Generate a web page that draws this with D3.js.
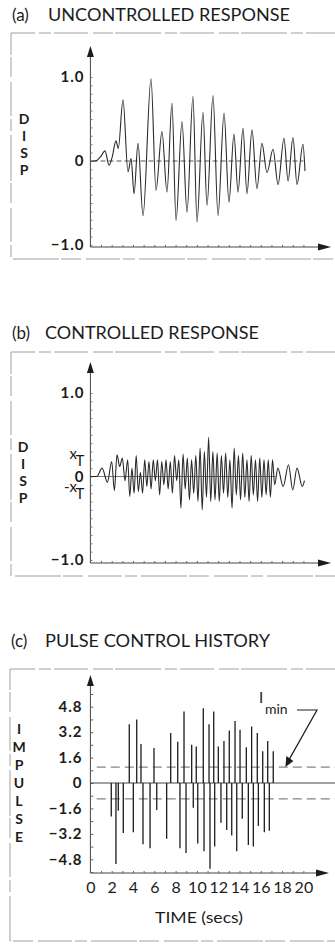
<!DOCTYPE html>
<html>
<head>
<meta charset="utf-8">
<script src="https://cdn.jsdelivr.net/npm/d3@7"></script>
<style>
  html, body { margin: 0; padding: 0; background: #fff; }
  svg { display: block; }
  text { font-family: Lato, "DejaVu Sans", sans-serif; fill: #1c1c1c; }
</style>
</head>
<body>
<div id="chart"></div>
<script>
// time axis (secs)
const timeTicks = [0, 2, 4, 6, 8, 10, 12, 14, 16, 18, 20];
const dispTicks = [1.0, 0, -1.0];
const impulseTicks = [4.8, 3.2, 1.6, 0, -1.6, -3.2, -4.8];
const xT = 0.2;     // displacement threshold
const iMin = 1.0;   // minimum impulse

// (a) uncontrolled response, [time, disp] read at peaks / troughs
const uncontrolled = [
  [0, 0], [0.45, 0], [0.95, 0.05], [1.37, 0.12], [1.75, -0.05], [2.05, 0.05],
  [2.4, 0.24], [2.62, 0.15], [3.06, 0.73], [3.53, -0.13], [3.82, 0.03], [4.1, -0.39],
  [4.47, 0.21], [4.94, -0.65], [5.69, 0.98], [6.16, -0.35], [6.72, 0.35], [7.19, -0.37],
  [7.66, 0.69], [8.04, -0.71], [8.6, 0.47], [9.07, -0.61], [9.63, 0.77], [10.01, -0.73],
  [10.57, 0.58], [10.95, -0.53], [11.51, 0.78], [11.98, -0.65], [12.55, 0.57], [13.01, -0.49],
  [13.48, 0.32], [13.86, -0.37], [14.33, 0.39], [14.7, -0.39], [15.17, 0.37], [15.64, -0.33],
  [16.11, 0.21], [16.58, -0.14], [17.15, 0.14], [17.62, -0.28], [18.18, 0.27], [18.56, -0.24],
  [19.02, 0.28], [19.4, -0.28], [19.96, 0.2], [20.15, -0.12]
];

// (b) controlled response, [time, disp]
const controlled = [
  [0, 0], [0.6, 0], [1.1, 0.1], [1.6, -0.07], [2.0, 0.18], [2.25, -0.17], [2.5, 0.26],
  [2.75, 0.12], [3.0, 0.22], [3.25, -0.05], [3.5, 0.2], [3.7, -0.24], [3.9, 0.1], [4.1, -0.2],
  [4.3, 0.25], [4.5, -0.18], [4.7, 0.05], [4.9, -0.2], [5.1, 0.2], [5.3, -0.12], [5.5, 0.18],
  [5.7, -0.15], [5.9, 0.2], [6.1, -0.05], [6.3, 0.2], [6.5, -0.22], [6.7, 0.18], [6.9, -0.1],
  [7.1, 0.2], [7.3, -0.15], [7.5, 0.18], [7.7, -0.2], [7.9, 0.25], [8.1, -0.05], [8.3, 0.2],
  [8.5, -0.38], [8.7, 0.27], [8.9, -0.15], [9.1, 0.22], [9.3, -0.28], [9.5, 0.2], [9.7, -0.2],
  [9.9, 0.25], [10.1, -0.3], [10.3, 0.34], [10.5, -0.4], [10.7, 0.3], [10.9, -0.25], [11.1, 0.47],
  [11.3, -0.3], [11.5, 0.3], [11.7, -0.28], [11.9, 0.28], [12.1, -0.3], [12.3, 0.25], [12.5, -0.2],
  [12.7, 0.28], [12.9, -0.25], [13.1, 0.2], [13.3, -0.38], [13.5, 0.34], [13.7, -0.22], [13.9, 0.25],
  [14.1, -0.28], [14.3, 0.28], [14.5, -0.25], [14.7, 0.2], [14.9, -0.3], [15.1, 0.25], [15.3, -0.22],
  [15.5, 0.2], [15.7, -0.3], [15.9, 0.22], [16.1, -0.25], [16.3, 0.2], [16.5, -0.22], [16.7, 0.2],
  [16.9, -0.25], [17.1, 0.2], [17.3, -0.1], [17.6, 0.1], [18.1, -0.12], [18.6, 0.14], [19.0, -0.16],
  [19.4, 0.1], [19.9, -0.12], [20.1, -0.05]
];

// (c) pulse control history
const pulseTimes = [
  1.96, 2.40, 2.62, 3.09, 3.65, 4.03, 4.35, 4.75, 4.94, 5.60, 5.97, 6.23, 7.16, 7.54, 8.20,
  8.41, 8.79, 8.98, 9.51, 9.66, 9.94, 10.08, 10.60, 10.67, 11.14, 11.23, 11.58, 11.67, 12.01,
  12.26, 12.54, 12.80, 13.04, 13.27, 13.58, 13.74, 14.05, 14.26, 14.64, 14.83, 15.14, 15.30,
  15.67, 15.77, 16.18, 16.33, 16.65, 16.80, 17.17
];
const pulseImpulse = [
  -2.1, -5.1, -1.75, -3.15, 3.7, -3.1, 4.0, 2.45, -3.85, -4.1, 2.2, -1.7, -3.5, 3.15, 2.6,
  -4.1, 4.5, -4.4, 2.4, -1.55, 2.3, -3.8, 4.7, -4.3, 3.7, -5.4, 4.5, -4.0, 2.3,
  -2.5, 2.65, -2.95, 3.3, -3.3, 3.9, -4.3, 3.35, -2.25, 2.25, -3.9, 3.55, -4.0,
  3.15, -2.7, 2.0, -3.1, 2.65, -3.0, 2.0
];

const width = 335, height = 945;
const ink = '#1c1c1c';

const svg = d3.select('#chart').append('svg')
  .attr('width', width)
  .attr('height', height);

const x = d3.scaleLinear().domain([0, 20]).range([90.4, 303.4]);

const panels = [
  { key: 'a', tag: '(a)', title: 'UNCONTROLLED RESPONSE', titleY: 21, titleX: 48, titleLen: 242,
    frameTop: 33, frameBottom: 259, frameLeft: 11,
    y: d3.scaleLinear().domain([-1, 1]).range([245, 77]), axisY: 247, tipY: 46, tipX: 331,
    label: 'DISP', labelX: 24, labelY: 124, labelStep: 17 },
  { key: 'b', tag: '(b)', title: 'CONTROLLED RESPONSE', titleY: 339, titleX: 45, titleLen: 214,
    frameTop: 352, frameBottom: 576, frameLeft: 11,
    y: d3.scaleLinear().domain([-1, 1]).range([560, 393]), axisY: 563, tipY: 362, tipX: 331,
    label: 'DISP', labelX: 23, labelY: 452, labelStep: 17 },
  { key: 'c', tag: '(c)', title: 'PULSE CONTROL HISTORY', titleY: 647, titleX: 45, titleLen: 225,
    frameTop: 669, frameBottom: 941, frameLeft: 10,
    y: d3.scaleLinear().domain([-4.8, 4.8]).range([859.3, 706.7]), axisY: 873, tipY: 675, tipX: 329,
    label: 'IMPULSE', labelX: 19, labelY: 734, labelStep: 18 }
];

panels.forEach(p => {
  const g = svg.append('g').attr('class', 'panel-' + p.key);

  // scanned frame
  g.append('path')
    .attr('d', `M${width + 5},${p.frameTop} H${p.frameLeft} V${p.frameBottom} H${width + 5}`)
    .attr('fill', 'none')
    .attr('stroke', '#a0a0a0')
    .attr('stroke-width', 1)
    .attr('stroke-dasharray', '34 3 12 4 46 2 20 5');

  g.append('text')
    .attr('x', p.frameLeft + 1)
    .attr('y', p.titleY)
    .style('font-size', '17px')
    .text(p.tag);

  g.append('text')
    .attr('x', p.titleX)
    .attr('y', p.titleY)
    .attr('textLength', p.titleLen)
    .attr('lengthAdjust', 'spacingAndGlyphs')
    .style('font-size', '17px')
    .text(p.title);

  // stacked axis label
  g.append('g').selectAll('text')
    .data(p.label.split(''))
    .enter()
    .append('text')
    .attr('x', p.labelX)
    .attr('y', (d, i) => p.labelY + i * p.labelStep)
    .attr('text-anchor', 'middle')
    .style('font-size', '14px')
    .style('font-weight', 'bold')
    .text(d => d);

  // axis lines
  g.append('line')
    .attr('x1', x(0)).attr('x2', x(0))
    .attr('y1', p.axisY).attr('y2', p.tipY + 8)
    .attr('stroke', '#444').attr('stroke-width', 1);
  g.append('line')
    .attr('x1', x(0)).attr('x2', p.tipX - 10)
    .attr('y1', p.axisY).attr('y2', p.axisY)
    .attr('stroke', '#444').attr('stroke-width', 1);

  g.append('path')
    .attr('d', `M${x(0)},${p.tipY} L${x(0) - 3.5},${p.tipY + 11} L${x(0) + 3.5},${p.tipY + 11} Z`)
    .attr('fill', ink);
  g.append('path')
    .attr('d', `M${p.tipX},${p.axisY} L${p.tipX - 13},${p.axisY - 3.5} L${p.tipX - 13},${p.axisY + 3.5} Z`)
    .attr('fill', ink);

  // minor ticks along the time axis
  g.append('g')
    .attr('transform', `translate(0,${p.axisY})`)
    .call(d3.axisTop(x).tickValues(d3.range(1, 21)).tickSize(2).tickFormat(''))
    .call(s => s.select('.domain').remove())
    .call(s => s.selectAll('line').attr('stroke', '#666'));

  p.g = g;
});

// y axes
const [pa, pb, pc] = panels;

function styleAxis(sel) {
  sel.select('.domain').remove();
  sel.selectAll('text')
    .style('font-family', 'Lato, "DejaVu Sans", sans-serif')
    .style('font-size', '15px')
    .style('font-weight', 'bold')
    .style('letter-spacing', '1px')
    .attr('fill', ink);
}

pa.g.append('g')
  .attr('transform', `translate(${x(0)},0)`)
  .call(d3.axisRight(pa.y).tickValues(d3.range(-10, 11).map(d => d / 10)).tickSize(2).tickFormat(''))
  .call(s => { s.select('.domain').remove(); s.selectAll('line').attr('stroke', '#777'); });
pa.g.append('g')
  .attr('transform', `translate(${x(0)},0)`)
  .call(d3.axisLeft(pa.y).tickValues(dispTicks).tickSize(0).tickPadding(6).tickFormat(d3.format('.1f')))
  .call(styleAxis)
  .call(s => s.selectAll('text').text(d => d === 0 ? '0' : d3.format('.1f')(d)));

pb.g.append('g')
  .attr('transform', `translate(${x(0)},0)`)
  .call(d3.axisRight(pb.y).tickValues(d3.range(-10, 11).map(d => d / 10)).tickSize(2).tickFormat(''))
  .call(s => { s.select('.domain').remove(); s.selectAll('line').attr('stroke', '#777'); });
pb.g.append('g')
  .attr('transform', `translate(${x(0)},0)`)
  .call(d3.axisLeft(pb.y).tickValues([1, xT, 0, -xT, -1]).tickSize(0).tickPadding(6))
  .call(styleAxis)
  .call(s => s.selectAll('text').each(function (d) {
    const t = d3.select(this).text('');
    if (Math.abs(d) === xT) {
      t.style('font-weight', 'normal').style('letter-spacing', '0px');
      t.append('tspan').text(d < 0 ? '-x' : 'x').attr('dy', '-0.1em');
      t.append('tspan').text('T').attr('dy', '0.45em').style('font-size', '15px');
    } else {
      t.text(d === 0 ? '0' : d3.format('.1f')(d));
    }
  }));

pc.g.append('g')
  .attr('transform', `translate(${x(0)},0)`)
  .call(d3.axisRight(pc.y).tickValues(d3.range(-7, 8).map(d => d * 0.8)).tickSize(3).tickFormat(''))
  .call(s => { s.select('.domain').remove(); s.selectAll('line').attr('stroke', '#666'); });
pc.g.append('g')
  .attr('transform', `translate(${x(0)},0)`)
  .call(d3.axisLeft(pc.y).tickValues(impulseTicks).tickSize(0).tickPadding(8))
  .call(styleAxis)
  .call(s => s.selectAll('text').text(d => d === 0 ? '0' : d3.format('.1f')(d).replace('-', '\u2212')));

// time tick labels (panel c)
pc.g.append('g')
  .attr('transform', `translate(0,${pc.axisY})`)
  .call(d3.axisBottom(x).tickValues(timeTicks).tickSize(0).tickFormat(d3.format('d')))
  .call(s => s.select('.domain').remove())
  .call(s => s.selectAll('text')
    .attr('y', 20).attr('dy', 0)
    .attr('fill', ink)
    .style('font-family', 'Lato, "DejaVu Sans", sans-serif')
    .style('font-size', '16px'));

pc.g.append('text')
  .attr('x', 199)
  .attr('y', 923)
  .attr('text-anchor', 'middle')
  .attr('textLength', 88)
  .attr('lengthAdjust', 'spacingAndGlyphs')
  .style('font-size', '16px')
  .text('TIME (secs)');

// (a) curve
pa.g.append('line')
  .attr('x1', x(0.2)).attr('x2', x(20))
  .attr('y1', pa.y(0)).attr('y2', pa.y(0))
  .attr('stroke', '#555').attr('stroke-dasharray', '5 3');

const lineA = d3.line().x(d => x(d[0])).y(d => pa.y(d[1])).curve(d3.curveMonotoneX);
pa.g.append('path')
  .datum(uncontrolled)
  .attr('d', lineA)
  .attr('fill', 'none')
  .attr('stroke', '#2a2a2a')
  .attr('stroke-width', 1.1);

// (b) curve
pb.g.append('line')
  .attr('x1', x(0.6)).attr('x2', x(17.4))
  .attr('y1', pb.y(0)).attr('y2', pb.y(0))
  .attr('stroke', '#555').attr('stroke-width', 0.8);

const lineB = d3.line().x(d => x(d[0])).y(d => pb.y(d[1])).curve(d3.curveMonotoneX);
pb.g.append('path')
  .datum(controlled)
  .attr('d', lineB)
  .attr('fill', 'none')
  .attr('stroke', '#2a2a2a')
  .attr('stroke-width', 1.1);

// (c) zero line, Imin bands and pulses
pc.g.append('line')
  .attr('x1', x(0)).attr('x2', width)
  .attr('y1', pc.y(0)).attr('y2', pc.y(0))
  .attr('stroke', '#444').attr('stroke-width', 1);

[iMin, -iMin].forEach(v => {
  pc.g.append('line')
    .attr('x1', x(0.6)).attr('x2', width)
    .attr('y1', pc.y(v)).attr('y2', pc.y(v))
    .attr('stroke', '#555').attr('stroke-width', 0.9)
    .attr('stroke-dasharray', '9 5');
});

pc.g.append('g')
  .selectAll('line')
  .data(pulseTimes.map((t, i) => ({ t, v: pulseImpulse[i] })))
  .enter()
  .append('line')
  .attr('x1', d => x(d.t)).attr('x2', d => x(d.t))
  .attr('y1', pc.y(0))
  .attr('y2', d => pc.y(d.v))
  .attr('stroke', '#1c1c1c')
  .attr('stroke-width', 1.3);

// Imin annotation
const note = pc.g.append('g');
note.append('text')
  .attr('x', 259).attr('y', 703)
  .style('font-size', '15px')
  .text('I');
note.append('text')
  .attr('x', 265).attr('y', 714)
  .style('font-size', '14px')
  .text('min');
note.append('path')
  .attr('d', `M297,710 H317 L${x(18.4) + 3},${pc.y(iMin) - 8}`)
  .attr('fill', 'none')
  .attr('stroke', ink)
  .attr('stroke-width', 1.2);
note.append('path')
  .attr('d', `M${x(18.4) - 1},${pc.y(iMin)} L${x(18.4) + 0},${pc.y(iMin) - 11} L${x(18.4) + 7},${pc.y(iMin) - 6} Z`)
  .attr('fill', ink);
</script>
</body>
</html>
